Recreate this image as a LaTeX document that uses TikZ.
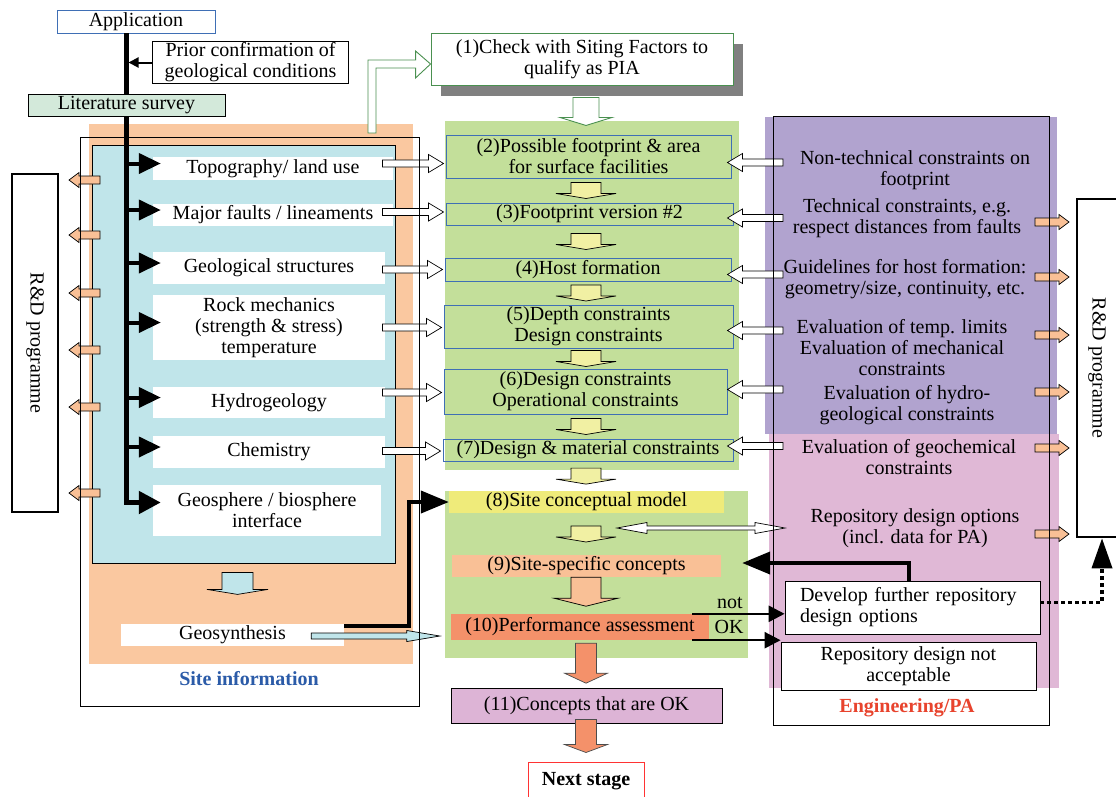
\documentclass[tikz,border=0pt]{standalone}
\usepackage{fontspec}
\setmainfont{Liberation Serif}
\usetikzlibrary{arrows.meta,calc,shadows}

\definecolor{peach}{RGB}{250,200,160}
\definecolor{skyfill}{RGB}{192,229,234}
\definecolor{litgreen}{RGB}{211,233,218}
\definecolor{midgreen}{RGB}{195,223,154}
\definecolor{lilac}{RGB}{177,163,207}
\definecolor{rosefill}{RGB}{224,184,214}
\definecolor{yelarrow}{RGB}{241,240,163}
\definecolor{yelbox}{RGB}{239,235,122}
\definecolor{lightorange}{RGB}{249,192,150}
\definecolor{deeporange}{RGB}{244,145,106}
\definecolor{mauve}{RGB}{221,180,214}
\definecolor{boxblue}{RGB}{63,111,181}
\definecolor{boxgreen}{RGB}{74,144,80}
\definecolor{siteblue}{RGB}{43,91,168}
\definecolor{engred}{RGB}{232,67,45}

% block arrow: [style]{from}{to}{shaft half width}{head half width}{head length}
\newcommand{\blockarrow}[6][]{%
  \coordinate (ba-s) at (#2);
  \coordinate (ba-e) at (#3);
  \coordinate (ba-h) at ($(ba-e)!#6!(ba-s)$);
  \draw[#1] ($(ba-s)!#4!90:(ba-e)$) -- ($(ba-h)!#4!90:(ba-e)$)
    -- ($(ba-h)!#5!90:(ba-e)$) -- (ba-e) -- ($(ba-h)!#5!-90:(ba-e)$)
    -- ($(ba-h)!#4!-90:(ba-e)$) -- ($(ba-s)!#4!-90:(ba-e)$) -- cycle;}
% same, with a head at both ends
\newcommand{\dblockarrow}[6][]{%
  \coordinate (ba-s) at (#2);
  \coordinate (ba-e) at (#3);
  \coordinate (ba-h) at ($(ba-e)!#6!(ba-s)$);
  \coordinate (ba-g) at ($(ba-s)!#6!(ba-e)$);
  \draw[#1] (ba-s) -- ($(ba-g)!#5!90:(ba-e)$) -- ($(ba-g)!#4!90:(ba-e)$)
    -- ($(ba-h)!#4!90:(ba-e)$) -- ($(ba-h)!#5!90:(ba-e)$) -- (ba-e)
    -- ($(ba-h)!#5!-90:(ba-e)$) -- ($(ba-h)!#4!-90:(ba-e)$)
    -- ($(ba-g)!#4!-90:(ba-e)$) -- ($(ba-g)!#5!-90:(ba-e)$) -- cycle;}

\begin{document}
\begin{tikzpicture}[x=1pt, y=-1pt,
    font=\fontsize{20}{21}\selectfont,
    sz/.style 2 args={minimum width=#1pt, minimum height=#2pt, inner sep=0pt},
    stepbox/.style={draw=boxblue, line width=0.9pt, align=center},
    infobox/.style={fill=white, align=center},
    sidetext/.style={align=center},
    wharrow/.style={draw=black, fill=white, line width=0.7pt},
    yarrow/.style={draw=black, fill=yelarrow, line width=0.7pt},
    oarrow/.style={draw=black, fill=lightorange, line width=0.7pt},
    skyarrow/.style={draw=black, fill=skyfill, line width=0.7pt},
    redarrow/.style={draw=black!70, fill=deeporange, line width=0.7pt},
    greenarrow/.style={draw=boxgreen, fill=white, line width=0.9pt},
    spine/.style={line width=5pt, -{Triangle[length=22pt,width=22pt]}},
    branch/.style={line width=4pt, -{Triangle[length=22pt,width=20pt]}},
    flow/.style={line width=2.5pt, -{Triangle[length=16pt,width=16pt]}},
    fbflow/.style={line width=4pt, -{Triangle[length=28pt,width=22pt]}},
    dotflow/.style={line width=3.5pt, dash pattern=on 4pt off 3pt,
                    -{Triangle[length=30pt,width=20pt]}},
    rdbox/.style={draw, line width=2.5pt}
  ]
    \path[use as bounding box, fill=white] (0,0) rectangle (1116,796);

    % backgrounds
    \node[fill=peach, sz={324}{540}] (sitebg) at (251,394) {};
    \node[draw, fill=skyfill, line width=0.8pt, sz={303}{418}] (geo) at (243.5,354) {};
    \node[fill=midgreen, sz={294}{349}] (mid1) at (592,295.5) {};
    \node[fill=midgreen, sz={303}{167}] (mid2) at (596.5,574.5) {};
    \node[fill=lilac, sz={292}{317}] (purple) at (911,275.5) {};
    \node[fill=rosefill, sz={290}{254}] (pink) at (914,561) {};
    \coordinate (engw) at (773,0);

    % site information
    \node[infobox, sz={240}{23}] (topo) at (273,168.5) {Topography/ land use};
    \node[infobox, sz={240}{22}] (faults) at (273,215) {Major faults / lineaments};
    \node[infobox, sz={232}{32}] (geol) at (269,268) {Geological structures};
    \node[infobox, sz={232}{65}] (rock) at (269,327.5) {Rock mechanics\\(strength \& stress)\\temperature};
    \node[infobox, sz={232}{31}] (hydro) at (269,402.5) {Hydrogeology};
    \node[infobox, sz={232}{32}] (chem) at (269,452) {Chemistry};
    \node[infobox, sz={228}{51}] (geosph) at (267,510.5) {Geosphere / biosphere\\interface};
    \node[infobox, sz={223}{22}] (geosyn) at (232.5,635) {Geosynthesis};
    \node[font=\fontsize{20}{21}\selectfont\bfseries, text=siteblue] (sitetxt) at (249,679) {Site information};

    \node[draw=boxblue, line width=0.9pt, sz={158}{23}] (app) at (136,21.5) {Application};
    \node[draw, line width=1pt, align=center, sz={196}{42}] (prior) at (250.5,62.5) {Prior confirmation of\\geological conditions};
    \node[rdbox, rotate=-90, sz={338}{46}] (rdl) at (35,343) {R\&D programme};

    \coordinate (sp) at (126,33);
    \draw[spine] (sp) |- ([shift={(8pt,8pt)}]geosph.west);
    \foreach \n in {topo,faults,geol,rock,hydro,chem}{
      \coordinate (\n-in) at ([shift={(8pt,5pt)}]\n.west);
      \draw[branch] (\n-in -| sp) -- (\n-in);
    }
    \draw[line width=2pt, shorten >=2.5pt, -{Triangle[length=10pt,width=10pt]}]
      (prior.west) -- (prior.west -| sp);
    \node[draw, fill=litgreen, line width=0.8pt, sz={197}{22}] (lit) at (126.5,105) {Literature survey};

    % steps
    \node[draw=boxgreen, fill=white, line width=0.9pt, align=center, sz={302}{52},
          general shadow={fill=black!50, shadow xshift=10pt, shadow yshift=-11pt}]
          (check) at (582,59) {(1)Check with Siting Factors to\\qualify as PIA};
    \node[stepbox, sz={285}{43}] (b2) at (588.5,156.5) {(2)Possible footprint \& area\\for surface facilities};
    \node[stepbox, sz={287}{22}] (b3) at (589.5,214) {(3)Footprint version \#2};
    \node[stepbox, sz={286}{23}] (b4) at (588,269.5) {(4)Host formation};
    \node[stepbox, sz={289}{43}] (b5) at (588.5,326.5) {(5)Depth constraints\\Design constraints};
    \node[stepbox, sz={283}{45}] (b6) at (585.5,391.5) {(6)Design constraints\\Operational constraints};
    \node[stepbox, sz={290}{22}] (b7) at (588,450) {(7)Design \& material constraints};
    \node[fill=yelbox, sz={275}{22}] (b8) at (586.5,502) {(8)Site conceptual model};
    \node[fill=lightorange, sz={269}{22}] (b9) at (586.5,566) {(9)Site-specific concepts};
    \node[fill=deeporange, sz={258}{26}] (b10) at (580,627) {(10)Performance assessment};
    \node[draw, fill=mauve, line width=1pt, sz={271}{35}] (b11) at (586.5,705.5) {(11)Concepts that are OK};
    \node[draw=red!80, line width=1pt, sz={116}{38}, font=\fontsize{20}{21}\selectfont\bfseries]
          (next) at (586,781) {Next stage};
    \node (nottxt) at (730,603) {not};
    \node (oktxt) at (729,627) {OK};

    % engineering / PA
    \node[sidetext] (nt) at (915,170) {Non-technical constraints on\\footprint};
    \node[sidetext] (tc) at (907,218) {Technical constraints, e.g.\\respect distances from faults};
    \node[sidetext] (gl) at (905,279) {Guidelines for host formation:\\geometry/size, continuity, etc.};
    \node[sidetext] (ev) at (902,348) {Evaluation of temp. limits\\Evaluation of mechanical\\constraints};
    \node[sidetext] (hy) at (907,405) {Evaluation of hydro-\\geological constraints};
    \node[sidetext] (gc) at (909,457) {Evaluation of geochemical\\constraints};
    \node[sidetext] (ro) at (915,528) {Repository design options\\(incl. data for PA)};
    \node[draw, fill=white, line width=0.8pt, text width=225pt, inner xsep=15pt,
          minimum height=53pt, align=left] (dev) at (912.5,607.5) {Develop further repository\\design options};
    \node[draw, fill=white, line width=0.8pt, align=center, sz={255}{48}] (notacc) at (908.5,666) {Repository design not\\acceptable};
    \node[font=\fontsize{20}{21}\selectfont\bfseries, text=engred] (engtxt) at (907,708) {Engineering/PA};
    \node[rdbox, sz={70}{338}] (rdr) at (1112,368) {};
    \node[rotate=-90] (rdrtxt) at (1097,368) {R\&D programme};

    % block arrows
    \foreach \y in {180,235,293,350,407,493}{
      \blockarrow[oarrow]{100,\y}{69,\y}{4pt}{7.5pt}{10pt}
    }
    \foreach \y in {222,277,335,392,448,534}{
      \blockarrow[oarrow]{1035,\y}{1069,\y}{4pt}{7.5pt}{10pt}
    }
    \foreach \n/\bx/\dy in {topo/b2/7,faults/b3/-2,geol/b4/0,rock/b5/1,hydro/b6/1,chem/b7/1}{
      \blockarrow[wharrow]{$(\bx.west -| geo.east)+(-13,\dy)$}{$(\bx.west)+(-2,\dy)$}{3.5pt}{9pt}{15pt}
    }
    \foreach \bx/\dy in {b2/6,b3/4,b4/5,b5/4,b6/-2,b7/-4}{
      \blockarrow[wharrow]{$(\bx.east -| engw)+(10,\dy)$}{$(\bx.east -| b6.east)+(0,\dy)$}{3.5pt}{9pt}{15pt}
    }
    \coordinate (axis) at (586,0);
    \foreach \pa/\pb in {b2/b3,b3/b4,b4/b5,b5/b6,b6/b7,b7/b8,b8/b9}{
      \coordinate (\pa-m) at ($(\pa.south -| axis)!0.5!(\pb.north -| axis)$);
      \blockarrow[yarrow]{$(\pa-m)+(0,-8)$}{$(\pa-m)+(0,8)$}{15pt}{30pt}{5pt}
    }
    \dblockarrow[wharrow]{$(b8-m)+(31,-6)$}{$(b8-m -| engw)+(12,-6)$}{2pt}{5.5pt}{30pt}
    \blockarrow[greenarrow]{$(check.south -| axis)+(0,12)$}{$(check.south -| axis)+(0,40)$}{13pt}{26pt}{8pt}
    \blockarrow[skyarrow]{$(geo.south)+(-6,9)$}{$(geo.south)+(-6,31)$}{15.5pt}{30.5pt}{5pt}
    \blockarrow[skyarrow]{$(geosyn.east)+(-33,1)$}{$(geosyn.east -| b10.west)+(-11,1)$}{3pt}{5.5pt}{33pt}
    \blockarrow[oarrow]{$(b9.south -| axis)$}{$(b9.south -| axis)+(0,29)$}{15pt}{32pt}{8pt}
    \blockarrow[redarrow]{$(b10.south -| axis)+(0,3)$}{$(b10.south -| axis)+(0,43)$}{10.5pt}{21.5pt}{10pt}
    \blockarrow[redarrow]{$(b11.south -| axis)+(0,-4)$}{$(next.north)+(0,-9)$}{10.5pt}{21.5pt}{8pt}

    \coordinate (gstart) at (372,133);
    \coordinate (gend) at ([yshift=-5pt]check.west);
    \draw[greenarrow] ($(gstart)+(-4,0)$) |- ($(gend)+(-15,-4)$) -- ++(0,-9) -- (gend)
      -- ++(-15,14) -- ++(0,-10) -| ($(gstart)+(4,0)$) -- cycle;

    % frames
    \node[draw, line width=0.8pt, sz={339}{569}] (site) at (249.5,421.5) {};
    \node[draw, line width=0.8pt, sz={276}{609}] (eng) at (911,420.5) {};

    % flows
    \draw[fbflow] ([yshift=-2pt]geosyn.north east) -- ++(65,0) |- (b8.west);
    \draw[flow] ([xshift=-17pt]b10.north east) -- (b10.north east -| dev.west);
    \draw[flow] ([xshift=-17pt]b10.south east) -- (b10.south east -| notacc.west);
    \draw[fbflow] ([xshift=-4pt]dev.north) |- ([xshift=21pt,yshift=3pt]b9.east);
    \draw[dotflow] ([yshift=5pt]dev.east) -| ([xshift=-10pt]rdr.south);
\end{tikzpicture}
\end{document}
